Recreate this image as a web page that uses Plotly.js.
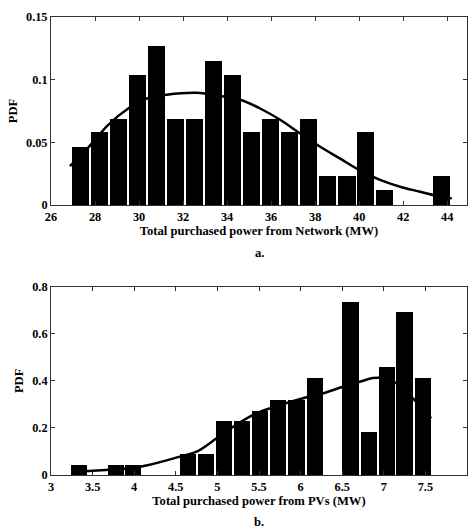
<!DOCTYPE html>
<html>
<head>
<meta charset="utf-8">
<script src="https://cdn.plot.ly/plotly-3.0.1.min.js"></script>
<style>html,body{margin:0;padding:0;background:#fff;}#plot{width:468px;height:531px;}</style>
</head>
<body>
<div id="plot"></div>
<script>
// Panel a: network purchased power histogram (bin centers, PDF values)
var netBins = [27.34, 28.20, 29.07, 29.93, 30.80, 31.66, 32.52, 33.39, 34.25, 35.12,
               35.98, 36.84, 37.71, 38.57, 39.44, 40.30, 41.16, 42.03, 42.89, 43.75];
var netPdf  = [0.046, 0.058, 0.069, 0.104, 0.127, 0.069, 0.069, 0.115, 0.104, 0.058,
               0.069, 0.058, 0.069, 0.023, 0.023, 0.058, 0.012, 0, 0, 0.023];
// fitted curve, panel a
var netFitX = [26.86, 27.70, 28.60, 29.51, 30.35, 31.26, 32.62, 33.68, 34.59, 35.50,
               36.41, 37.32, 38.23, 39.14, 39.90, 40.95, 41.86, 42.77, 43.68, 44.21];
var netFitY = [0.031, 0.046, 0.064, 0.077, 0.085, 0.088, 0.0895, 0.087, 0.084, 0.077,
               0.068, 0.057, 0.0465, 0.037, 0.029, 0.020, 0.0146, 0.0106, 0.0066, 0.0053];

// Panel b: PV purchased power histogram
var pvBins = [3.34, 3.56, 3.78, 3.99, 4.21, 4.43, 4.65, 4.86, 5.08, 5.30,
              5.51, 5.73, 5.95, 6.17, 6.38, 6.60, 6.82, 7.04, 7.25, 7.47];
var pvPdf  = [0.043, 0, 0.043, 0.043, 0, 0, 0.090, 0.090, 0.229, 0.229,
              0.274, 0.320, 0.320, 0.414, 0, 0.737, 0.183, 0.460, 0.691, 0.414];
// fitted curve, panel b
var pvFitX = [3.25, 3.51, 4.07, 4.55, 4.75, 4.99, 5.19, 5.43, 5.63, 6.03,
              6.27, 6.51, 6.71, 6.87, 6.95, 7.15, 7.35, 7.57];
var pvFitY = [0.014, 0.018, 0.035, 0.078, 0.099, 0.156, 0.205, 0.255, 0.283, 0.326,
              0.347, 0.375, 0.396, 0.412, 0.413, 0.390, 0.326, 0.241];

// tick values and labels
var xTickA = [26, 28, 30, 32, 34, 36, 38, 40, 42, 44];
var xTickALab = ['26', '28', '30', '32', '34', '36', '38', '40', '42', '44'];
var yTickA = [0, 0.05, 0.1, 0.15];
var yTickALab = ['0', '0.05', '0.1', '0.15'];
var xTickB = [3, 3.5, 4, 4.5, 5, 5.5, 6, 6.5, 7, 7.5, 8];
var xTickBLab = ['3', '3.5', '4', '4.5', '5', '5.5', '6', '6.5', '7', '7.5', '8'];
var yTickB = [0, 0.2, 0.4, 0.6, 0.8];
var yTickBLab = ['0', '0.2', '0.4', '0.6', '0.8'];

var xLabA = 'Total purchased power from Network (MW)';
var xLabB = 'Total purchased power from PVs (MW)';
var yLab = 'PDF';

var F = 'Liberation Serif';
var tickFont = {family: F, size: 12.3, color: '#000', weight: 700};
var titleFont = {family: F, size: 12.6, color: '#000', weight: 700};

var traces = [
  {type: 'bar', x: netBins, y: netPdf, width: 0.79, xaxis: 'x', yaxis: 'y',
   marker: {color: '#000', line: {width: 0}}, hoverinfo: 'skip'},
  {type: 'scatter', mode: 'lines', x: netFitX, y: netFitY, xaxis: 'x', yaxis: 'y',
   line: {color: '#000', width: 2.5, shape: 'spline'}},
  {type: 'bar', x: pvBins, y: pvPdf, width: 0.195, xaxis: 'x2', yaxis: 'y2',
   marker: {color: '#000', line: {width: 0}}, hoverinfo: 'skip'},
  {type: 'scatter', mode: 'lines', x: pvFitX, y: pvFitY, xaxis: 'x2', yaxis: 'y2',
   line: {color: '#000', width: 2.5, shape: 'spline'}}
];

function ax(extra) {
  var base = {
    showline: true, linecolor: '#333', linewidth: 1, mirror: 'ticks',
    ticks: 'inside', ticklen: 4, tickcolor: '#333', tickwidth: 1,
    showgrid: false, zeroline: false, tickfont: tickFont, fixedrange: true,
    tickmode: 'array'
  };
  for (var k in extra) base[k] = extra[k];
  return base;
}

var layout = {
  width: 468, height: 531,
  margin: {l: 51, r: 1, t: 17, b: 56},
  paper_bgcolor: '#fff', plot_bgcolor: '#fff',
  showlegend: false,
  bargap: 0,
  xaxis: ax({domain: [0, 1], range: [26, 44.9], tickvals: xTickA, ticktext: xTickALab,
             anchor: 'y', title: {text: xLabA, font: titleFont, standoff: 1}}),
  yaxis: ax({domain: [0.5895, 1], range: [0, 0.15], tickvals: yTickA, ticktext: yTickALab,
             anchor: 'x', title: {text: yLab, font: titleFont, standoff: 5}}),
  xaxis2: ax({domain: [0, 1], range: [3, 8], tickvals: xTickB, ticktext: xTickBLab,
             anchor: 'y2', title: {text: xLabB, font: titleFont, standoff: 1}}),
  yaxis2: ax({domain: [0, 0.4111], range: [0, 0.8], tickvals: yTickB, ticktext: yTickBLab,
             anchor: 'x2', title: {text: yLab, font: titleFont, standoff: 5}}),
  annotations: [
    {text: 'a.', xref: 'paper', yref: 'paper', x: 0.5, y: 0.5895, yshift: -48,
     showarrow: false, font: titleFont, xanchor: 'center', yanchor: 'middle'},
    {text: 'b.', xref: 'paper', yref: 'paper', x: 0.5, y: 0, yshift: -47,
     showarrow: false, font: titleFont, xanchor: 'center', yanchor: 'middle'}
  ]
};

Plotly.newPlot('plot', traces, layout, {staticPlot: true, displayModeBar: false});
</script>
</body>
</html>
